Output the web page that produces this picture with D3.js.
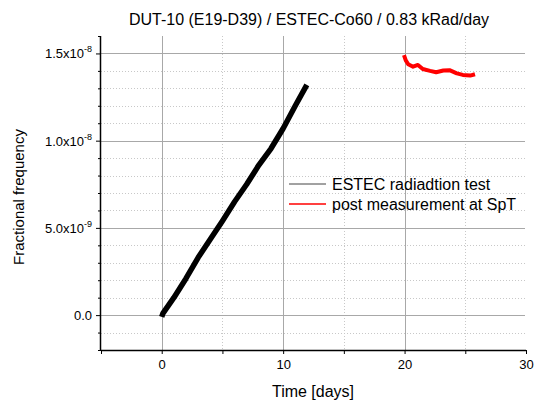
<!DOCTYPE html>
<html>
<head>
<meta charset="utf-8">
<script src="https://cdn.jsdelivr.net/npm/d3@7/dist/d3.min.js"></script>
<style>
body { margin: 0; background: #fff; }
text { font-family: Arial, "Liberation Sans", sans-serif; fill: #000; }
</style>
</head>
<body>
<div id="chart"></div>
<script>
// ESTEC radiation test (black)
var testDays = [0.0, 0.1, 1.0, 2.0, 3.0, 4.0, 5.0, 6.0, 7.0, 8.0, 9.0, 10.0, 11.0, 11.95];
var testValues = [-0.1e-9, 0.1e-9, 1.0e-9, 2.1e-9, 3.3e-9, 4.35e-9, 5.4e-9, 6.5e-9, 7.5e-9, 8.6e-9, 9.55e-9, 10.7e-9, 12.0e-9, 13.2e-9];
// post measurement at SpT (red)
var postDays = [19.95, 20.1, 20.3, 20.7, 21.1, 21.5, 22.1, 22.6, 23.2, 23.7, 24.3, 24.8, 25.4, 25.8];
var postValues = [14.9e-9, 14.6e-9, 14.38e-9, 14.24e-9, 14.34e-9, 14.11e-9, 14.0e-9, 13.92e-9, 14.02e-9, 14.04e-9, 13.86e-9, 13.77e-9, 13.73e-9, 13.81e-9];

var xTicks = [0, 10, 20, 30];
var xMinor = [-5, 5, 15, 25];
var yTicks = [0, 5e-9, 1e-8, 1.5e-8];
var yMant = ["0.0", "5.0x10", "1.0x10", "1.5x10"];
var yExp = ["", "-9", "-8", "-8"];
var yMinor = [-2e-9, -1e-9, 1e-9, 2e-9, 3e-9, 4e-9, 6e-9, 7e-9, 8e-9, 9e-9, 11e-9, 12e-9, 13e-9, 14e-9, 16e-9];
var seriesNames = ["ESTEC radiadtion test", "post measurement at SpT"];
var seriesColors = ["#000", "#ff0000"];

var width = 536, height = 403;
var margin = ({ top: 36, right: 10, bottom: 53, left: 101 });

var x = d3.scaleLinear().domain([-5, 30]).range([margin.left, width - margin.right]);
var y = d3.scaleLinear().domain([-2e-9, 1.6e-8]).range([height - margin.bottom, margin.top]);

var svg = d3.select("#chart").append("svg")
    .attr("width", width)
    .attr("height", height);

// grid
var grid = svg.append("g");
grid.selectAll(".hminor")
    .data(yMinor.filter(d => d > -2e-9 && d < 1.6e-8))
    .enter().append("line")
    .attr("x1", margin.left).attr("x2", width - margin.right - 1)
    .attr("y1", d => Math.round(y(d)) + 0.5).attr("y2", d => Math.round(y(d)) + 0.5)
    .attr("stroke", "#c8c8c8").attr("stroke-dasharray", "1,2");
grid.selectAll(".vminor")
    .data(xMinor.filter(d => d > -5))
    .enter().append("line")
    .attr("y1", margin.top).attr("y2", height - margin.bottom)
    .attr("x1", d => Math.round(x(d)) + 0.5).attr("x2", d => Math.round(x(d)) + 0.5)
    .attr("stroke", "#c8c8c8").attr("stroke-dasharray", "1,2");
grid.selectAll(".hmajor")
    .data(yTicks)
    .enter().append("line")
    .attr("x1", margin.left).attr("x2", width - margin.right - 1)
    .attr("y1", d => Math.round(y(d)) + 0.5).attr("y2", d => Math.round(y(d)) + 0.5)
    .attr("stroke", "#a8a8a8");
grid.selectAll(".vmajor")
    .data(xTicks.filter(d => d < 30))
    .enter().append("line")
    .attr("y1", margin.top).attr("y2", height - margin.bottom)
    .attr("x1", d => Math.round(x(d)) + 0.5).attr("x2", d => Math.round(x(d)) + 0.5)
    .attr("stroke", "#a8a8a8");

// data
var line = d3.line().x(d => x(d[0])).y(d => y(d[1]));
svg.append("path")
    .datum(d3.zip(testDays, testValues))
    .attr("d", line)
    .attr("fill", "none")
    .attr("stroke", seriesColors[0])
    .attr("stroke-width", 5.5)
    .attr("stroke-linejoin", "round");
svg.append("path")
    .datum(d3.zip(postDays, postValues))
    .attr("d", line)
    .attr("fill", "none")
    .attr("stroke", seriesColors[1])
    .attr("stroke-width", 4)
    .attr("stroke-linejoin", "round");

// axes
var xAxis = svg.append("g")
    .attr("transform", `translate(0, ${height - margin.bottom})`)
    .call(d3.axisBottom(x).tickValues(xTicks).tickSize(4).tickFormat(d3.format("d")));
svg.append("g")
    .attr("transform", `translate(0, ${height - margin.bottom})`)
    .call(d3.axisBottom(x).tickValues(xMinor).tickSize(4).tickFormat(""))
    .select(".domain").remove();
xAxis.select(".domain").attr("d", `M${margin.left},0.5H${width - margin.right}`).attr("stroke-width", 1.5);
xAxis.selectAll("text").attr("dy", "0.71em").attr("y", 10).style("font-size", "13px").style("font-family", "Arial, 'Liberation Sans', sans-serif");

var yAxis = svg.append("g")
    .attr("transform", `translate(${margin.left}, 0)`)
    .call(d3.axisLeft(y).tickValues(yTicks).tickSize(5).tickFormat(""));
svg.append("g")
    .attr("transform", `translate(${margin.left}, 0)`)
    .call(d3.axisLeft(y).tickValues(yMinor).tickSize(3).tickFormat(""))
    .select(".domain").remove();
yAxis.select(".domain").attr("d", `M-0.5,${margin.top}V${height - margin.bottom}`).attr("stroke-width", 1.5);

var ylab = svg.append("g").selectAll("text")
    .data(yTicks)
    .enter().append("text")
    .attr("x", margin.left - 9)
    .attr("y", d => y(d) + 5)
    .attr("text-anchor", "end")
    .style("font-size", "13px");
ylab.append("tspan").text((d, i) => yMant[i]);
ylab.append("tspan")
    .attr("dy", (d, i) => yExp[i] ? -6 : 0)
    .style("font-size", "9px")
    .text((d, i) => yExp[i]);

// titles
svg.append("text")
    .attr("x", 309).attr("y", 25)
    .attr("text-anchor", "middle")
    .style("font-size", "16px")
    .text("DUT-10 (E19-D39) / ESTEC-Co60 / 0.83 kRad/day");
svg.append("text")
    .attr("x", 313).attr("y", 397)
    .attr("text-anchor", "middle")
    .style("font-size", "16px")
    .text("Time [days]");
svg.append("text")
    .attr("transform", "translate(24, 197) rotate(-90)")
    .attr("text-anchor", "middle")
    .style("font-size", "15px")
    .text("Fractional frequency");

// legend
var legend = svg.append("g").selectAll("g")
    .data(seriesNames)
    .enter().append("g")
    .attr("transform", (d, i) => `translate(289, ${184 + i * 20})`);
legend.append("line")
    .attr("x1", 0).attr("x2", 37)
    .attr("stroke", (d, i) => i ? seriesColors[1] : "#444")
    .attr("stroke-width", (d, i) => i ? 1.5 : 1);
legend.append("text")
    .attr("x", 43).attr("y", 6)
    .style("font-size", "16px")
    .text(d => d);
</script>
</body>
</html>
